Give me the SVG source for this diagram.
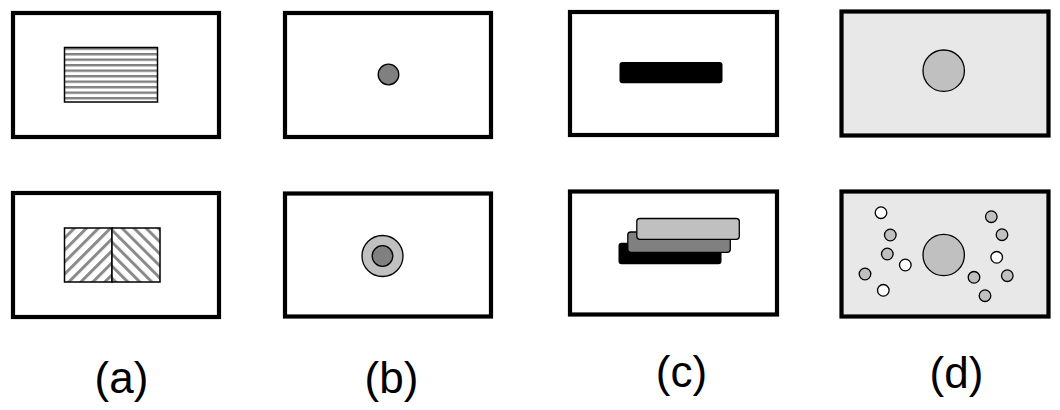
<svg xmlns="http://www.w3.org/2000/svg" width="1060" height="410" viewBox="0 0 1060 410">
<style>
.frame{fill:#fff;stroke:#000;stroke-width:4.2}
.frame-d{fill:#e8e8e8;stroke:#000;stroke-width:4.2}
.thin{stroke:#000;stroke-width:1.5}
.lbl{font-family:"Liberation Sans",Arial,sans-serif;font-size:44px;fill:#000;text-anchor:middle}
.sm-w{fill:#fff;stroke:#000;stroke-width:1.3}
.sm-g{fill:#c0c0c0;stroke:#000;stroke-width:1.3}
</style>
<defs>
<pattern id="hstripe" patternUnits="userSpaceOnUse" x="0" y="47.5" width="10" height="5.5">
<rect width="10" height="5.5" fill="#fff"/>
<rect y="0" width="10" height="2.4" fill="#808080"/>
</pattern>
<pattern id="diagR" patternUnits="userSpaceOnUse" width="8.5" height="8.5" patternTransform="rotate(45)">
<rect width="8.5" height="8.5" fill="#fff"/>
<rect x="0" y="0" width="3" height="8.5" fill="#8a8a8a"/>
</pattern>
<pattern id="diagL" patternUnits="userSpaceOnUse" width="8.5" height="8.5" patternTransform="rotate(-45)">
<rect width="8.5" height="8.5" fill="#fff"/>
<rect x="0" y="0" width="3" height="8.5" fill="#8a8a8a"/>
</pattern>
</defs>

<g id="panel-a-top">
<rect class="frame" x="13" y="13" width="206" height="124"/>
<rect x="64.5" y="47.5" width="93" height="54.5" fill="url(#hstripe)" class="thin"/>
</g>
<g id="panel-a-bottom">
<rect class="frame" x="13" y="193" width="206" height="124"/>
<rect x="64.5" y="228" width="47.5" height="54" fill="url(#diagR)" class="thin"/>
<rect x="112" y="228" width="48" height="54" fill="url(#diagL)" class="thin"/>
</g>

<g id="panel-b-top">
<rect class="frame" x="285" y="13" width="206" height="124"/>
<circle cx="388.5" cy="74.5" r="10.3" fill="#808080" stroke="#000" stroke-width="1.3"/>
</g>
<g id="panel-b-bottom">
<rect class="frame" x="285" y="193.5" width="206" height="123"/>
<circle cx="382.5" cy="256" r="20.5" fill="#c0c0c0" stroke="#000" stroke-width="1.3"/>
<circle cx="382.5" cy="256" r="10.3" fill="#808080" stroke="#000" stroke-width="1.3"/>
</g>

<g id="panel-c-top">
<rect class="frame" x="570" y="12" width="207" height="123"/>
<rect x="619.5" y="62" width="103" height="21.3" rx="3" fill="#000"/>
</g>
<g id="panel-c-bottom">
<rect class="frame" x="570" y="191.5" width="207" height="123"/>
<rect x="618.5" y="242.7" width="103" height="21.5" rx="3" fill="#000"/>
<rect x="627.8" y="232" width="102.5" height="20.3" rx="3" fill="#808080" stroke="#000" stroke-width="1.3"/>
<rect x="636.8" y="218.5" width="102.5" height="20.8" rx="3" fill="#c0c0c0" stroke="#000" stroke-width="1.3"/>
</g>

<g id="panel-d-top">
<rect class="frame-d" x="841.5" y="11.5" width="207" height="124"/>
<circle cx="943.7" cy="70.7" r="20.7" fill="#c0c0c0" stroke="#000" stroke-width="1.3"/>
</g>
<g id="panel-d-bottom">
<rect class="frame-d" x="841.5" y="191.5" width="207" height="125"/>
<circle cx="943.7" cy="255" r="20.7" fill="#c0c0c0" stroke="#000" stroke-width="1.3"/>
<circle class="sm-w" cx="881" cy="212.7" r="5.8"/>
<circle class="sm-g" cx="890.3" cy="235" r="5.8"/>
<circle class="sm-g" cx="887.3" cy="254" r="5.8"/>
<circle class="sm-w" cx="905.3" cy="265" r="5.8"/>
<circle class="sm-g" cx="865" cy="274" r="5.8"/>
<circle class="sm-w" cx="883.3" cy="290.3" r="5.8"/>
<circle class="sm-g" cx="991.3" cy="216.7" r="5.8"/>
<circle class="sm-g" cx="1002" cy="234.7" r="5.8"/>
<circle class="sm-w" cx="996.7" cy="257.3" r="5.8"/>
<circle class="sm-g" cx="1007.3" cy="275.7" r="5.8"/>
<circle class="sm-g" cx="974" cy="277.3" r="5.8"/>
<circle class="sm-g" cx="985" cy="295.7" r="5.8"/>
</g>

<g id="labels">
<text class="lbl" x="121.5" y="393">(a)</text>
<text class="lbl" x="391.5" y="393">(b)</text>
<text class="lbl" x="681.5" y="387">(c)</text>
<text class="lbl" x="956.5" y="388">(d)</text>
</g>
</svg>
